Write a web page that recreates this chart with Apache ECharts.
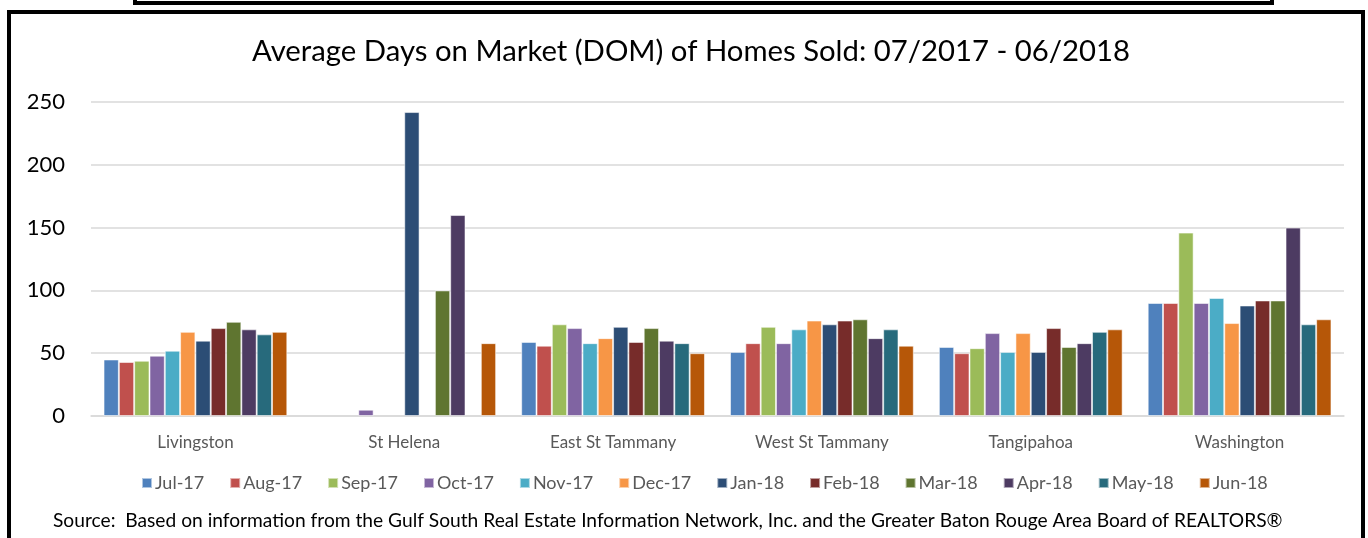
<!DOCTYPE html>
<html>
<head>
<meta charset="utf-8">
<script src="https://cdn.jsdelivr.net/npm/echarts@6/dist/echarts.min.js"></script>
<style>
html,body{margin:0;padding:0;background:#fff;}
#chart{width:1368px;height:538px;}
</style>
</head>
<body>
<div id="chart"></div>
<script>
const categories = ['Livingston', 'St Helena', 'East St Tammany', 'West St Tammany', 'Tangipahoa', 'Washington'];
const months = ['Jul-17','Aug-17','Sep-17','Oct-17','Nov-17','Dec-17','Jan-18','Feb-18','Mar-18','Apr-18','May-18','Jun-18'];
const colors = ['#4F81BD','#C0504D','#9BBB59','#8064A2','#4BACC6','#F79646','#2C4D75','#772C2A','#5F7530','#4D3B62','#276A7C','#B65708'];
const yTicks = [0, 50, 100, 150, 200, 250];

// values per month, in category order
const jul17 = [45, null, 59, 51, 55, 90];
const aug17 = [43, null, 56, 58, 50, 90];
const sep17 = [44, null, 73, 71, 54, 146];
const oct17 = [48, 5, 70, 58, 66, 90];
const nov17 = [52, null, 58, 69, 51, 94];
const dec17 = [67, null, 62, 76, 66, 74];
const jan18 = [60, 242, 71, 73, 51, 88];
const feb18 = [70, null, 59, 76, 70, 92];
const mar18 = [75, 100, 70, 77, 55, 92];
const apr18 = [69, 160, 60, 62, 58, 150];
const may18 = [65, null, 58, 69, 67, 73];
const jun18 = [67, 58, 50, 56, 69, 77];
const seriesValues = [jul17, aug17, sep17, oct17, nov17, dec17, jan18, feb18, mar18, apr18, may18, jun18];

const FONT = 'Lato, "Open Sans", sans-serif';

const chart = echarts.init(document.getElementById('chart'), null, {renderer: 'canvas'});
chart.setOption({
  animation: false,
  color: colors,
  title: {
    text: 'Average Days on Market (DOM) of Homes Sold: 07/2017 - 06/2018',
    left: 247,
    top: 32,
    textStyle: {fontFamily: FONT, fontSize: 29.3, fontWeight: 'normal', color: '#000'}
  },
  grid: {left: 91, right: 24, top: 102, bottom: 122, containLabel: false},
  legend: {
    data: months,
    bottom: 41,
    left: 136,
    itemWidth: 10,
    itemHeight: 10,
    itemGap: 25,
    icon: 'rect',
    textStyle: {fontFamily: FONT, fontSize: 18, color: '#595959', padding: [0, 0, 0, -2]}
  },
  xAxis: {
    type: 'category',
    data: categories,
    axisTick: {show: false},
    axisLine: {show: true, lineStyle: {color: '#D9D9D9', width: 1.5}},
    axisLabel: {fontFamily: FONT, fontSize: 17, color: '#595959', margin: 18}
  },
  yAxis: {
    type: 'value',
    min: yTicks[0],
    max: yTicks[yTicks.length - 1],
    interval: 50,
    axisLine: {show: false},
    axisTick: {show: false},
    splitLine: {lineStyle: {color: '#D9D9D9', width: 1.5}},
    axisLabel: {fontFamily: FONT, fontSize: 22, color: '#000', margin: 26}
  },
  graphic: [
    {type: 'rect', shape: {x: 9, y: 12, width: 1354, height: 540}, style: {fill: 'none', stroke: '#000', lineWidth: 4}},
    {type: 'rect', shape: {x: 135, y: -20, width: 1137, height: 23}, style: {fill: 'none', stroke: '#000', lineWidth: 4}},
    {type: 'text', left: 53, top: 511, style: {text: 'Source:  Based on information from the Gulf South Real Estate Information Network, Inc. and the Greater Baton Rouge Area Board of REALTORS®', fontFamily: FONT, fontSize: 19.2, fill: '#000'}}
  ],
  series: months.map((m, i) => ({
    name: m,
    type: 'bar',
    data: seriesValues[i],
    barGap: '0%',
    barCategoryGap: '12%',
    itemStyle: {color: colors[i], borderColor: 'rgba(255,255,255,0.55)', borderWidth: 1}
  }))
});
</script>
</body>
</html>
